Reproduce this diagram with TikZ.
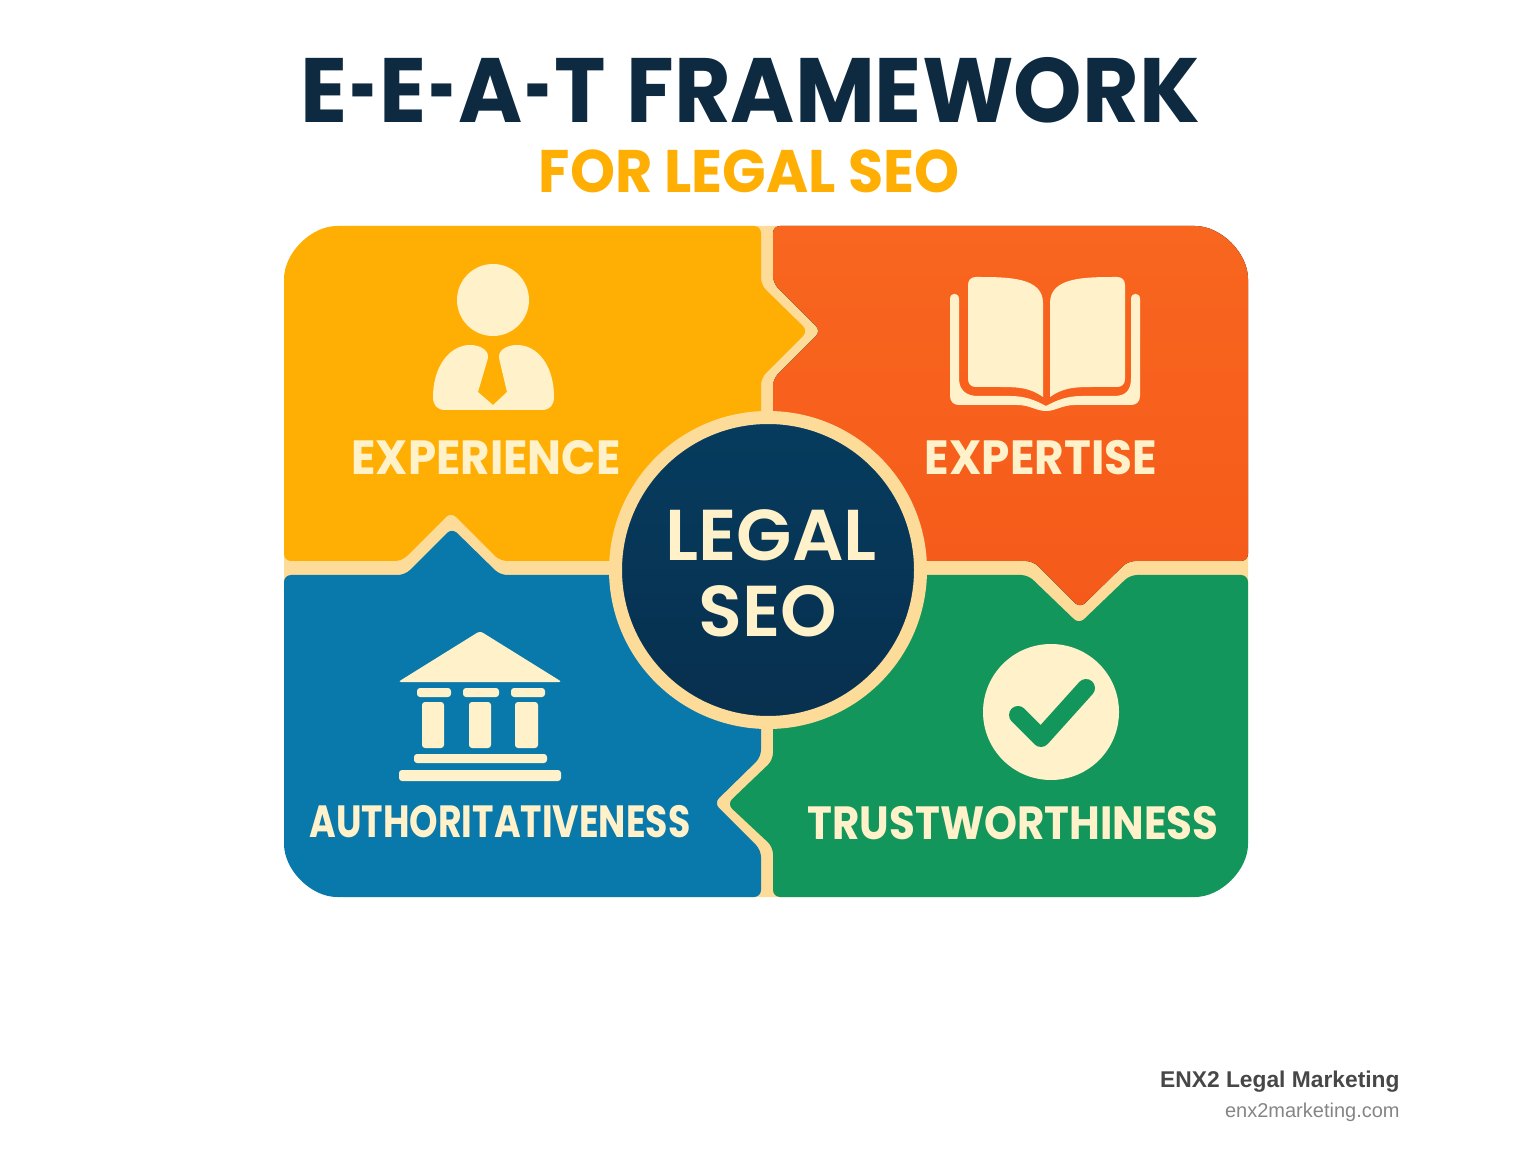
\documentclass[tikz,border=0pt]{standalone}
\usepackage{fontspec}
\setmainfont{Poppins}
\newfontfamily\semifont{Poppins SemiBold}
\newfontfamily\footfont{Liberation Sans}
\definecolor{ambercol}{HTML}{FFAE03}
\definecolor{orangetop}{HTML}{F8661F}
\definecolor{orangelow}{HTML}{F55A1A}
\definecolor{bluecol}{HTML}{0879AA}
\definecolor{greencol}{HTML}{13965B}
\definecolor{creamcol}{HTML}{FFF1C9}
\definecolor{gutcol}{HTML}{FDDC9A}
\definecolor{navycol}{HTML}{0E2A40}
\definecolor{hubtop}{HTML}{063C5E}
\definecolor{hublow}{HTML}{082F4E}
\newcommand{\shortdash}{\kern1.5pt\scalebox{0.52}[1]{-}\kern1.5pt}
\begin{document}
\begin{tikzpicture}[x=0.5pt,y=-0.5pt,inner sep=0pt]
\tikzstyle{piece} = [rounded corners=3.5pt]
\tikzstyle{icon} = [fill=creamcol, rounded corners=1.5pt]
\tikzstyle{quadlabel} = [text=creamcol, font=\fontsize{24}{28}\selectfont\bfseries]
\tikzstyle{hublabel} = [text=creamcol, font=\fontsize{36}{40}\selectfont\semifont]
\useasboundingbox (0,0) rectangle (1536,1154);
%
\node[text=navycol, font=\fontsize{45.7}{50}\selectfont\bfseries] (title) at (750,90) {\scalebox{0.953}[1]{E\shortdash E\shortdash A\shortdash T\kern1pt{} FRAMEWORK}};
\node[text=ambercol, font=\fontsize{30}{34}\selectfont\bfseries] (subtitle) at (749,171) {\scalebox{0.954}[1]{FOR LEGAL SEO}};
%
\fill[gutcol, rounded corners=30pt] (284,226) rectangle (1248,897);
% four pieces
\fill[piece, ambercol] (500,226) -- (761,226) -- (761,285) -- (808,331) -- (761,378) -- (761,561) -- (500,561) -- (451,512) -- (402,561) -- (284,561) -- (284,286) .. controls (284,253) and (311,226) .. (344,226) -- cycle;
\fill[piece, top color=orangetop, bottom color=orangelow] (1000,226) -- (1188,226) .. controls (1221,226) and (1248,253) .. (1248,286) -- (1248,561) -- (1128,561) -- (1080,608) -- (1033,561) -- (773,561) -- (773,379) -- (821,331) -- (773,283) -- (773,226) -- cycle;
\fill[piece, bluecol] (500,575) -- (761,575) -- (761,757) -- (714,803) -- (761,850) -- (761,897) -- (344,897) .. controls (311,897) and (284,870) .. (284,837) -- (284,575) -- (405,575) -- (452,528) -- cycle;
\fill[piece, greencol] (1000,575) -- (1028,575) -- (1079,624) -- (1130,575) -- (1248,575) -- (1248,837) .. controls (1248,870) and (1221,897) .. (1188,897) -- (773,897) -- (773,847) -- (727,804) -- (773,760) -- (773,575) -- cycle;
% centre
\node[circle, minimum size=152.5pt, draw=gutcol, line width=6.5pt, top color=hubtop, bottom color=hublow] (hub) at (768,570) {};
\node[hublabel] (legal) at (771,535) {LEGAL};
\node[hublabel] (seo) at (768,611) {SEO};
%
\node[quadlabel] (experience) at (486,458) {\scalebox{0.94}[1]{EXPERIENCE}};
\node[quadlabel] (expertise) at (1041,458) {\scalebox{0.946}[1]{EXPERTISE}};
\node[quadlabel] (authority) at (500,822) {\scalebox{0.755}[0.94]{AUTHORITATIVENESS}};
\node[quadlabel] (trust) at (1013,823) {\scalebox{0.875}[0.97]{TRUSTWORTHINESS}};
% person
\fill[creamcol] (493,300) circle (36);
\fill[creamcol] (433,397) .. controls (433,366) and (450,345) .. (470,345) .. controls (480,345) and (489,350) .. (488,358) -- (478,392) -- (493,405) -- (507,392) -- (499,358) .. controls (498,350) and (507,345) .. (517,345) .. controls (538,345) and (554,366) .. (554,397) .. controls (554,405) and (550,410) .. (542,410) -- (445,410) .. controls (437,410) and (433,405) .. (433,397) -- cycle;
% book
\fill[creamcol] (976,277) .. controls (1008,277) and (1043,277) .. (1043,303) -- (1043,397) .. controls (1030,388) and (1020,387) .. (1000,387) -- (976,387) .. controls (971,387) and (968,384) .. (968,379) -- (968,285) .. controls (968,280) and (971,277) .. (976,277) -- cycle;
\fill[creamcol] (1117,277) .. controls (1085,277) and (1050,277) .. (1050,303) -- (1050,397) .. controls (1063,388) and (1073,387) .. (1093,387) -- (1117,387) .. controls (1122,387) and (1125,384) .. (1125,379) -- (1125,285) .. controls (1125,280) and (1122,277) .. (1117,277) -- cycle;
\fill[creamcol] (950,299) .. controls (950,292) and (959,292) .. (959,299) -- (959,378) .. controls (959,390) and (966,396) .. (978,396) -- (1010,396) .. controls (1025,396) and (1035,400) .. (1046,406) .. controls (1057,400) and (1067,396) .. (1082,396) -- (1114,396) .. controls (1126,396) and (1131,390) .. (1131,378) -- (1131,299) .. controls (1131,292) and (1140,292) .. (1140,299) -- (1140,396) .. controls (1140,402) and (1136,405) .. (1131,405) -- (1075,405) .. controls (1062,405) and (1056,411) .. (1046,411) .. controls (1036,411) and (1030,405) .. (1017,405) -- (959,405) .. controls (954,405) and (950,402) .. (950,396) -- cycle;
% temple
\fill[icon] (480,631) -- (562,682) -- (398,682) -- cycle;
\foreach \xa/\xb in {417/451,463/499,511/545} \fill[icon] (\xa,688) rectangle (\xb,697);
\foreach \xa/\xb in {422/444,469/491,515/538} \fill[icon] (\xa,702) rectangle (\xb,748);
\fill[icon] (414,754) rectangle (547,763);
\fill[icon] (399,770) rectangle (561,781);
% check
\fill[creamcol] (1051,712) circle (68);
\draw[greencol, line width=9pt, line cap=round, line join=round] (1018,715) -- (1041,738) -- (1086,688);
%
\node[anchor=base east, text=black!72, font=\fontsize{11.4}{14}\selectfont\footfont\bfseries] (brand) at (1400,1087) {ENX2 Legal Marketing};
\node[anchor=base east, text=black!48, font=\fontsize{10}{13}\selectfont\footfont] (site) at (1400,1117) {enx2marketing.com};
\end{tikzpicture}
\end{document}
